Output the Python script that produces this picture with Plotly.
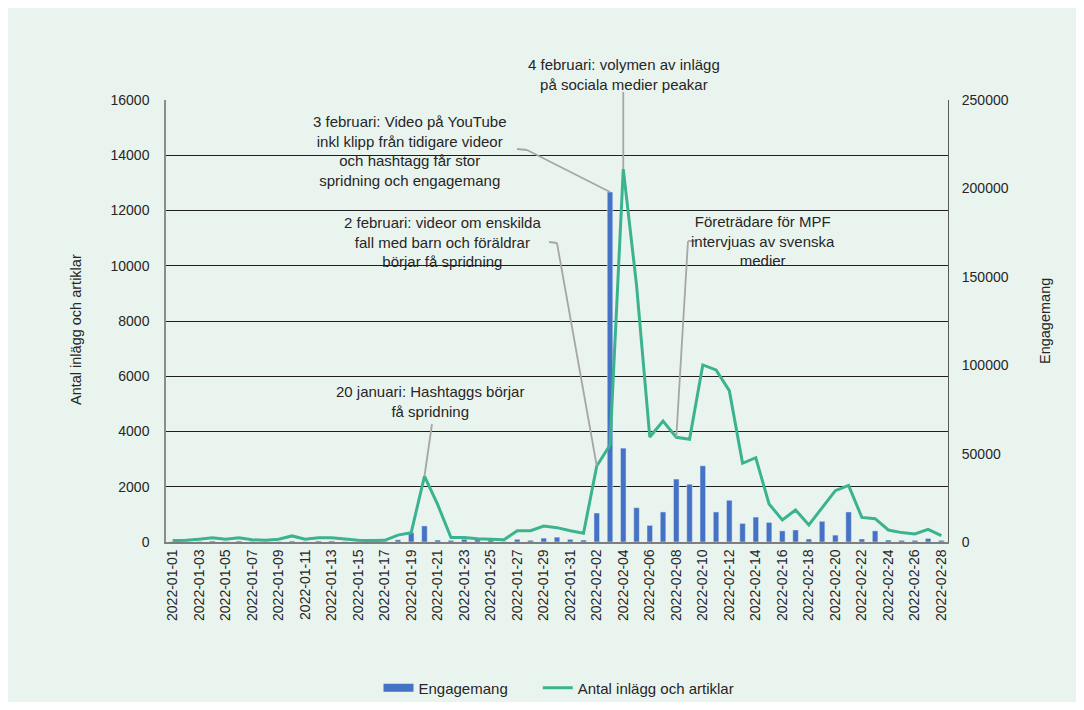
import plotly.graph_objects as go
from datetime import datetime, timedelta

# ---- data ----
dates = [(datetime(2022, 1, 1) + timedelta(days=i)).strftime("%Y-%m-%d") for i in range(59)]

posts = [50, 60, 100, 150, 100, 150, 80, 60, 100, 220,
         100, 150, 150, 100, 60, 50, 60, 250, 340, 2380,
         1350, 160, 160, 120, 100, 80, 410, 410, 580, 520,
         410,
         315, 2750, 3510, 13500, 9300, 3800, 4380, 3790, 3720, 6410,
         6230, 5480, 2850, 3050, 1375, 800, 1160, 615, 1220, 1860,
         2050, 890, 845, 435, 340, 290, 460, 230]

engagement = [150, 150, 300, 600, 250, 600, 300, 150, 250, 600,
              250, 600, 600, 250, 150, 150, 300, 1250, 5300, 9100,
              1100, 950, 1550, 1250, 1100, 300, 1550, 950, 2200, 2750,
              1500,
              1100, 16400, 198000, 53100, 19400, 9400, 17000, 35600, 32700, 43100,
              17000, 23600, 10500, 14100, 11100, 6300, 6800, 1700, 11700, 3900,
              17000, 1700, 6300, 1100, 950, 950, 2000, 950]

tick_dates = dates[::2]

left_ticks = list(range(0, 16001, 2000))
right_ticks = list(range(0, 250001, 50000))

# ---- styling ----
BG = "#EAF4EF"
BAR = "#4472C4"
LINE = "#3BB38F"
LEAD = "#A6A6A6"
FONT = "Liberation Sans, Arial, sans-serif"
TXT = "#262626"

FW, FH = 1068, 694
OFF = 8  # page body margin
# plot area in page pixels
L, R, T, B = 166, 948, 100, 542
W, H = R - L, B - T
DAY = W / 59.0
X0 = L + DAY / 2


def dx(px):
    return (datetime(2022, 1, 1) + timedelta(days=(px - X0) / DAY)).strftime("%Y-%m-%d %H:%M:%S")


def vy(py):
    return (B - py) / H * 16000


def ve(py):
    return (B - py) / H * 250000


def ppx(px):
    return (px - L) / W


def ppy(py):
    return (B - py) / H


fig = go.Figure()
fig.add_trace(go.Bar(x=dates, y=engagement, name="Engagemang", marker_color=BAR,
                     yaxis="y", showlegend=False))
fig.add_trace(go.Scatter(x=[None], y=[None], name="Engagemang" + "\u00a0" * 6, mode="lines",
                         line=dict(color=BAR, width=8), yaxis="y", hoverinfo="skip"))
fig.add_trace(go.Scatter(x=dates, y=posts, name="Antal inlägg och artiklar", mode="lines",
                         line=dict(color=LINE, width=3), yaxis="y2"))

shapes = []


def seg(x0, y0, x1, y1, yref="y2"):
    return dict(type="line", xref="x", yref=yref, x0=x0, y0=y0, x1=x1, y1=y1,
                line=dict(color=LEAD, width=1.8))


# 20 januari
shapes.append(seg(dx(432), vy(424), dates[19], posts[19]))
# 2 februari
shapes.append(seg(dx(549), vy(242), dx(557), vy(243)))
shapes.append(seg(dx(557), vy(243), dates[32], posts[32]))
# 3 februari -> bar top
shapes.append(seg(dx(517), ve(149), dx(527), ve(150), yref="y"))
shapes.append(seg(dx(527), ve(150), dates[33], engagement[33], yref="y"))
# 4 februari -> line peak
shapes.append(dict(type="line", xref="x", yref="paper", x0=dates[34], x1=dates[34],
                   y0=ppy(92), y1=posts[34] / 16000, line=dict(color=LEAD, width=1.8)))
# MPF
shapes.append(seg(dx(697), vy(241), dx(688), vy(241)))
shapes.append(seg(dx(688), vy(241), dates[38], posts[38]))

notes = [
    ("20 januari: Hashtaggs börjar<br>få spridning", 430, 401),
    ("2 februari: videor om enskilda<br>fall med barn och föräldrar<br>börjar få spridning", 442, 242),
    ("3 februari: Video på YouTube<br>inkl klipp från tidigare videor<br>och hashtagg får stor<br>spridning och engagemang", 410, 151),
    ("4 februari: volymen av inlägg<br>på sociala medier peakar", 624, 75),
    ("Företrädare för MPF<br>intervjuas av svenska<br>medier", 763, 241),
]
annotations = []
for text, px, py in notes:
    annotations.append(dict(text=text, xref="paper", yref="paper", x=ppx(px), y=ppy(py),
                            xanchor="center", yanchor="middle", showarrow=False,
                            font=dict(family=FONT, size=15, color=TXT), align="center"))

annotations.append(dict(text="Antal inlägg och artiklar", xref="paper", yref="paper",
                        x=ppx(76), y=ppy(330), textangle=-90, showarrow=False,
                        xanchor="center", yanchor="middle",
                        font=dict(family=FONT, size=14.5, color=TXT)))
annotations.append(dict(text="Engagemang", xref="paper", yref="paper",
                        x=ppx(1045), y=ppy(321), textangle=-90, showarrow=False,
                        xanchor="center", yanchor="middle",
                        font=dict(family=FONT, size=14.5, color=TXT)))

fig.update_layout(
    width=FW, height=FH,
    margin=dict(l=L - OFF, r=FW - (R - OFF), t=T - OFF, b=FH - (B - OFF), autoexpand=False),
    paper_bgcolor=BG, plot_bgcolor=BG,
    font=dict(family=FONT, size=14, color=TXT),
    bargap=0.58,
    showlegend=True,
    legend=dict(orientation="h", x=ppx(559), xanchor="center", y=ppy(688), yanchor="middle",
                font=dict(family=FONT, size=15, color=TXT), bgcolor="rgba(0,0,0,0)",
                traceorder="normal"),
    xaxis=dict(type="date", range=["2021-12-31 12:00", "2022-02-28 12:00"],
               tickvals=tick_dates, ticktext=tick_dates, tickangle=-90,
               tickfont=dict(family=FONT, size=14, color=TXT),
               showgrid=False, showline=True, linecolor="#7F7F7F", linewidth=1.5,
               ticks="", zeroline=False, automargin=False),
    yaxis=dict(range=[0, 250000], tickvals=right_ticks, ticktext=[str(v) for v in right_ticks],
               side="right", showgrid=False, zeroline=False, showline=True,
               linecolor="#595959", linewidth=1, ticks="", ticklabelstandoff=10,
               tickfont=dict(family=FONT, size=14, color=TXT), automargin=False),
    yaxis2=dict(range=[0, 16000], tickvals=left_ticks, ticktext=[str(v) for v in left_ticks],
                side="left", overlaying="y", showgrid=True, gridcolor="#1F1F1F", gridwidth=1,
                zeroline=False, showline=True, linecolor="#8C8C8C", linewidth=1.5,
                ticks="", ticklabelstandoff=12,
                tickfont=dict(family=FONT, size=14, color=TXT), automargin=False),
    shapes=shapes,
    annotations=annotations,
)

fig.write_html("out.html")
